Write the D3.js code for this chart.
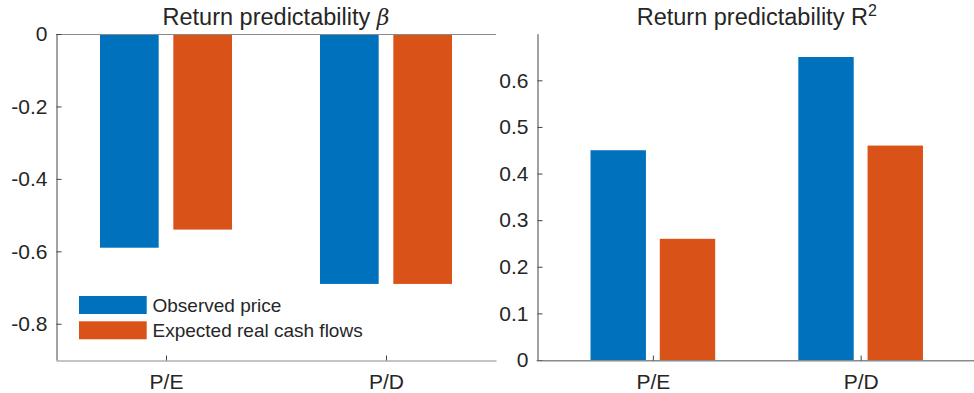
<!DOCTYPE html>
<html>
<head>
<meta charset="utf-8">
<script src="https://cdn.jsdelivr.net/npm/d3@7"></script>
<style>
  html, body { margin: 0; padding: 0; background: #fff; }
  svg { display: block; }
  text { font-family: "Liberation Sans", Arial, Helvetica, sans-serif; fill: #262626; }
</style>
</head>
<body>
<svg id="chart" width="974" height="393"></svg>
<script>
// ---- data ----
const categories = ["P/E", "P/D"];
const seriesNames = ["Observed price", "Expected real cash flows"];
const seriesColors = ["#0072BD", "#D95319"];
const betaObserved = [-0.59, -0.69];
const betaExpected = [-0.54, -0.69];
const r2Observed = [0.45, 0.65];
const r2Expected = [0.26, 0.46];
const betaTicks = [0, -0.2, -0.4, -0.6, -0.8];
const betaTickLabels = ["0", "-0.2", "-0.4", "-0.6", "-0.8"];
const r2Ticks = [0, 0.1, 0.2, 0.3, 0.4, 0.5, 0.6];
const r2TickLabels = ["0", "0.1", "0.2", "0.3", "0.4", "0.5", "0.6"];

const svg = d3.select("#chart");
const barW = 0.8 / 3;       // grouped bar width in category units
const offsets = [-1 / 6, 1 / 6];

function panel(opts) {
  const g = svg.append("g");
  const x = d3.scaleLinear().domain(opts.xDomain).range(opts.xRange);
  const y = d3.scaleLinear().domain(opts.yDomain).range(opts.yRange);
  const series = [opts.s1, opts.s2];

  // bars
  series.forEach((vals, si) => {
    g.selectAll(null)
      .data(vals)
      .enter()
      .append("rect")
      .attr("x", (d, i) => x(i + 1 + offsets[si] - barW / 2))
      .attr("width", (d, i) => x(i + 1 + offsets[si] + barW / 2) - x(i + 1 + offsets[si] - barW / 2))
      .attr("y", d => Math.min(y(d), y(0)))
      .attr("height", d => Math.abs(y(d) - y(0)))
      .attr("fill", seriesColors[si]);
  });

  // baseline at 0
  g.append("line")
    .attr("x1", opts.xRange[0]).attr("x2", opts.xRange[1])
    .attr("y1", Math.round(y(0)) + 0.5).attr("y2", Math.round(y(0)) + 0.5)
    .attr("stroke", "#8a8a8a").attr("stroke-width", 1);

  // y axis
  const yAxis = d3.axisLeft(y)
    .tickValues(opts.yTicks)
    .tickFormat((d, i) => opts.yTickLabels[i])
    .tickSizeInner(-5)
    .tickSizeOuter(0)
    .tickPadding(9);
  const ya = g.append("g")
    .attr("transform", `translate(${Math.round(opts.xRange[0]) + 0.5},0)`)
    .call(yAxis);
  ya.select(".domain").attr("stroke", "#444");
  ya.selectAll(".tick line").attr("stroke", "#444");
  ya.selectAll(".tick text")
    .style("font-size", "21px")
    .attr("fill", "#262626");

  // x axis at bottom
  const yBottom = Math.round(opts.yRange[0]) + 0.5;
  const xAxis = d3.axisBottom(x)
    .tickValues([1, 2])
    .tickFormat((d, i) => categories[i])
    .tickSizeInner(-5)
    .tickSizeOuter(0)
    .tickPadding(14);
  const xa = g.append("g")
    .attr("transform", `translate(0,${yBottom})`)
    .call(xAxis);
  xa.select(".domain").attr("stroke", "#8a8a8a");
  xa.selectAll(".tick line").attr("stroke", "#444");
  xa.selectAll(".tick text")
    .style("font-size", "21px")
    .attr("fill", "#262626");

  // title
  const t = g.append("text")
    .attr("x", (opts.xRange[0] + opts.xRange[1]) / 2)
    .attr("y", 25)
    .attr("text-anchor", "middle")
    .style("font-size", "23.5px")
    .text(opts.title);
  opts.titleExtra(t);
  return { g, x, y };
}

panel({
  xDomain: [0.5, 2.5], xRange: [56, 496],
  yDomain: [-0.9, 0], yRange: [360, 34],
  s1: betaObserved, s2: betaExpected,
  yTicks: betaTicks, yTickLabels: betaTickLabels,
  title: "Return predictability ",
  titleExtra: t => t.append("tspan")
    .style("font-family", "'DejaVu Serif', 'Liberation Serif', serif")
    .style("font-style", "italic")
    .style("font-size", "22px")
    .text("β")
});

panel({
  xDomain: [0.44, 2.56], xRange: [536.5, 977],
  yDomain: [0, 0.7], yRange: [360, 33.7],
  s1: r2Observed, s2: r2Expected,
  yTicks: r2Ticks, yTickLabels: r2TickLabels,
  title: "Return predictability R",
  titleExtra: t => t.append("tspan")
    .attr("dy", "-9")
    .style("font-size", "16px")
    .text("2")
});

// legend (in left panel)
const lg = svg.append("g");
seriesNames.forEach((name, i) => {
  const cy = 305 + i * 25.3;
  lg.append("rect")
    .attr("x", 79).attr("y", cy - 9)
    .attr("width", 67.7).attr("height", 18)
    .attr("fill", seriesColors[i]);
  lg.append("text")
    .attr("x", 152.5).attr("y", cy)
    .attr("dy", "0.36em")
    .style("font-size", "19px")
    .text(name);
});
</script>
</body>
</html>
